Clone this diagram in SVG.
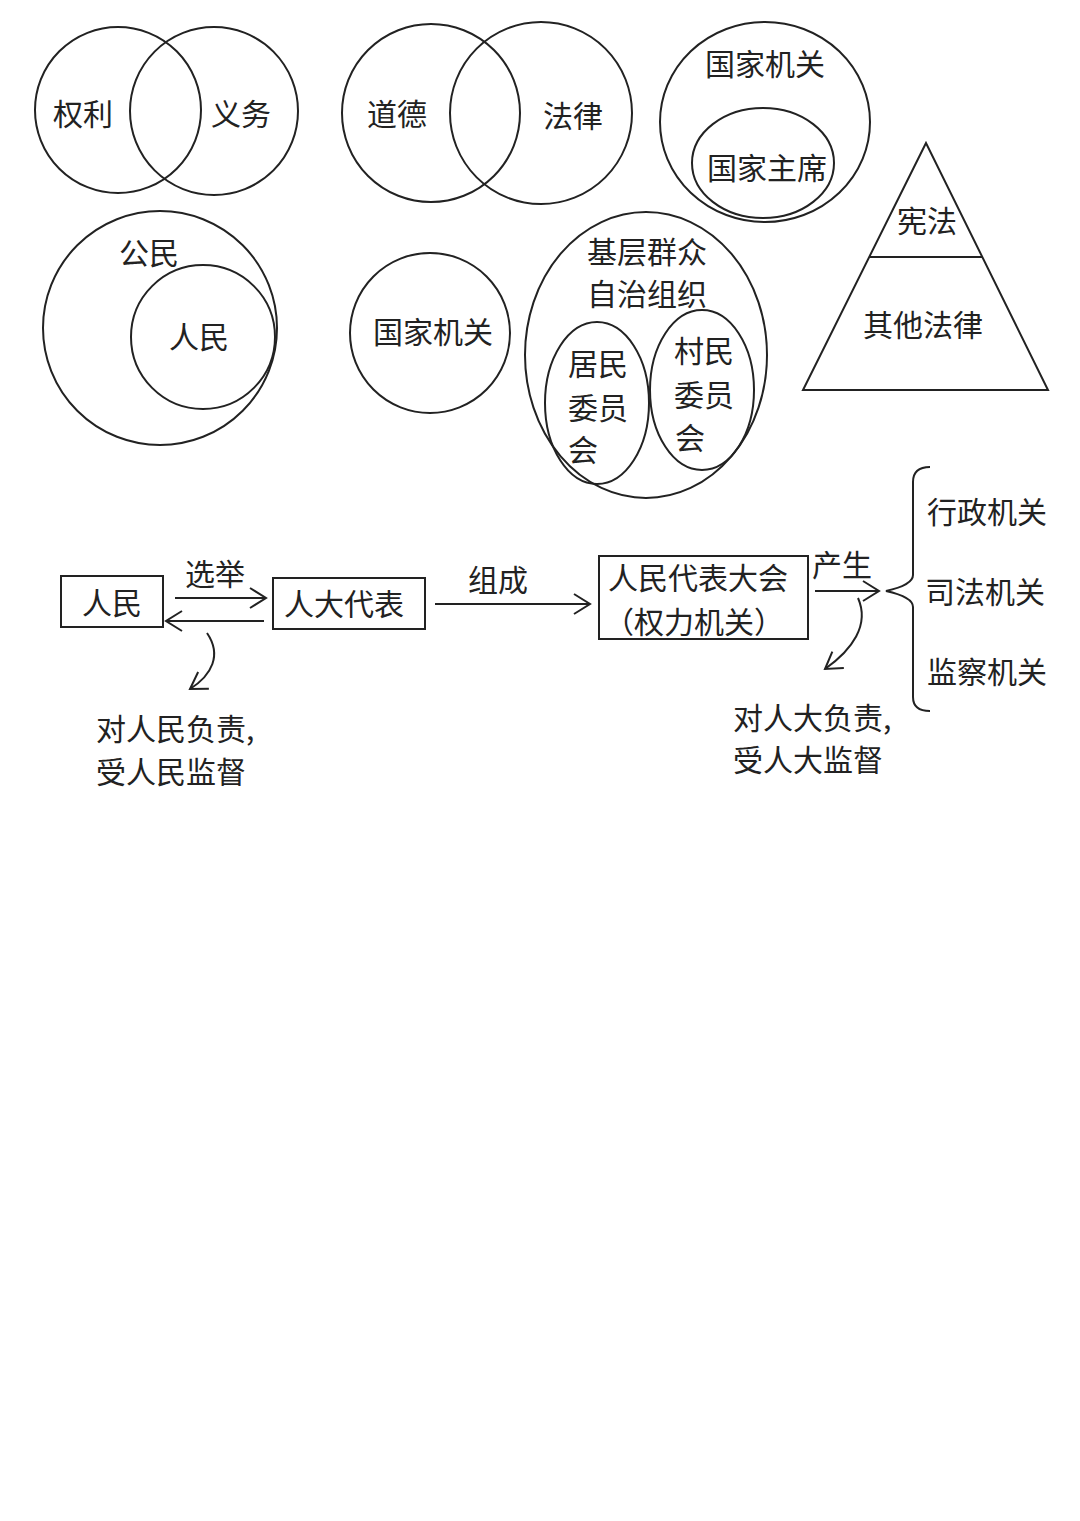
<svg xmlns="http://www.w3.org/2000/svg" width="1080" height="1521" viewBox="0 0 1080 1521">
<style>
.s{fill:none;stroke:#222;stroke-width:2}
.t{font-family:"Noto Sans CJK SC","Noto Sans",sans-serif;font-size:30px;fill:#222;dominant-baseline:central;text-anchor:middle}
.l{text-anchor:start}
</style>
<defs>
<marker id="a" markerWidth="20" markerHeight="22" refX="17" refY="11" orient="auto" markerUnits="userSpaceOnUse">
<path d="M1,1 L17,11 L1,21" fill="none" stroke="#222" stroke-width="2"/>
</marker>
</defs>
<rect width="1080" height="1521" fill="#fff"/>
<g id="venn-rights">
<circle class="s" cx="118" cy="110" r="83"/>
<circle class="s" cx="214" cy="111" r="84"/>
<text class="t" x="83" y="112">权利</text>
<text class="t" x="241" y="112">义务</text>
</g>
<g id="venn-moral">
<circle class="s" cx="431" cy="113" r="89"/>
<circle class="s" cx="541" cy="113" r="91"/>
<text class="t" x="397" y="112">道德</text>
<text class="t" x="573" y="114">法律</text>
</g>
<g id="state-organs">
<ellipse class="s" cx="765" cy="122" rx="105" ry="100"/>
<ellipse class="s" cx="763" cy="163" rx="71" ry="55"/>
<text class="t" x="765" y="62">国家机关</text>
<text class="t" x="767" y="166">国家主席</text>
</g>
<g id="pyramid">
<polygon class="s" points="926,143 803,390 1048,390"/>
<line class="s" x1="870" y1="257" x2="982" y2="257"/>
<text class="t" x="927" y="219">宪法</text>
<text class="t" x="923" y="323">其他法律</text>
</g>
<g id="citizens">
<circle class="s" cx="160" cy="328" r="117"/>
<circle class="s" cx="203" cy="337" r="72"/>
<text class="t" x="149" y="251">公民</text>
<text class="t" x="199" y="335">人民</text>
</g>
<g id="state-organ">
<circle class="s" cx="430" cy="333" r="80"/>
<text class="t" x="433" y="330">国家机关</text>
</g>
<g id="grassroots">
<ellipse class="s" cx="646" cy="355" rx="121" ry="143"/>
<ellipse class="s" cx="597" cy="403" rx="52" ry="81"/>
<ellipse class="s" cx="702" cy="390" rx="52" ry="80"/>
<text class="t" x="647" y="250">基层群众</text>
<text class="t" x="647" y="292">自治组织</text>
<text class="t" x="598" y="362">居民</text>
<text class="t" x="598" y="406">委员</text>
<text class="t" x="583" y="448">会</text>
<text class="t" x="704" y="349">村民</text>
<text class="t" x="704" y="393">委员</text>
<text class="t" x="690" y="436">会</text>
</g>
<g id="people">
<rect class="s" x="61" y="576" width="102" height="51"/>
<text class="t" x="112" y="601">人民</text>
</g>
<g id="deputies">
<rect class="s" x="273" y="578" width="152" height="51"/>
<text class="t" x="344" y="602">人大代表</text>
</g>
<g id="npc">
<rect class="s" x="599" y="556" width="209" height="83"/>
<text class="t" x="698" y="576">人民代表大会</text>
<text class="t" x="694" y="620">（权力机关）</text>
</g>
<g id="organs">
<path class="s" d="M930,467 Q913,467 913,482 L913,575 Q913,585 886,591 Q913,597 913,607 L913,697 Q913,711 930,711"/>
<text class="t" x="987" y="510">行政机关</text>
<text class="t" x="985" y="590">司法机关</text>
<text class="t" x="987" y="670">监察机关</text>
</g>
<g id="connectors">
<line class="s" x1="175" y1="598" x2="266" y2="598" marker-end="url(#a)"/>
<line class="s" x1="264" y1="621" x2="166" y2="621" marker-end="url(#a)"/>
<path class="s" d="M207,633 C222,655 212,675 190,689" marker-end="url(#a)"/>
<line class="s" x1="435" y1="604" x2="590" y2="604" marker-end="url(#a)"/>
<line class="s" x1="815" y1="591" x2="879" y2="591" marker-end="url(#a)"/>
<path class="s" d="M858,598 C870,625 852,650 825,669" marker-end="url(#a)"/>
<text class="t" x="215" y="572">选举</text>
<text class="t" x="498" y="578">组成</text>
<text class="t" x="842" y="563">产生</text>
<text class="t l" x="96" y="727">对人民负责,</text>
<text class="t l" x="96" y="770">受人民监督</text>
<text class="t l" x="733" y="716">对人大负责,</text>
<text class="t l" x="733" y="758">受人大监督</text>
</g>
</svg>
